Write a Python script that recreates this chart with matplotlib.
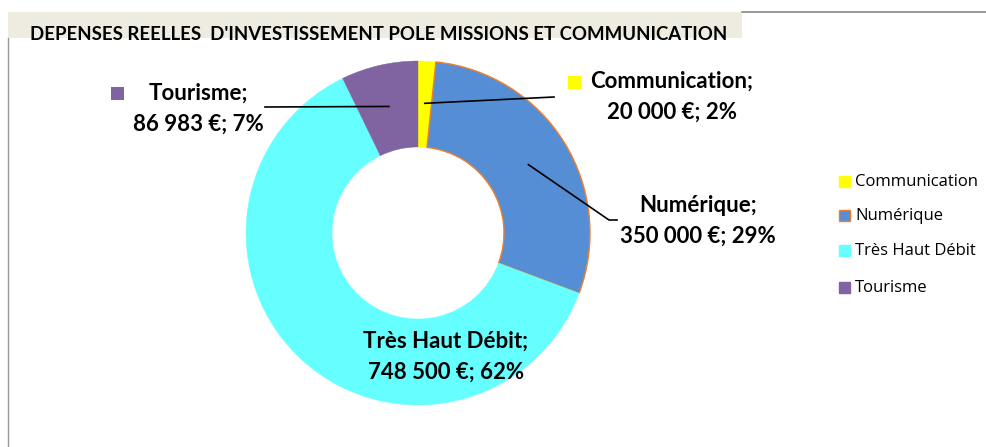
import matplotlib
matplotlib.use("Agg")
import matplotlib.pyplot as plt
from matplotlib.patches import Rectangle
from matplotlib.lines import Line2D
from matplotlib import font_manager
import numpy as np

categories = ["Communication", "Numérique", "Très Haut Débit", "Tourisme"]
amounts = [20000, 350000, 748500, 86983]
amount_labels = ["20 000 €", "350 000 €", "748 500 €", "86 983 €"]
colors = ["#FFFF00", "#558ED5", "#66FFFF", "#8064A2"]
edge_colors = ["none", "#F07F2A", "none", "none"]
title = "DEPENSES REELLES  D'INVESTISSEMENT POLE MISSIONS ET COMMUNICATION"

W, H = 987, 447
fig = plt.figure(figsize=(W / 100, H / 100), dpi=100)
fig.patch.set_facecolor("white")

avail = {f.name for f in font_manager.fontManager.ttflist}
label_font = "Lato" if "Lato" in avail else "DejaVu Sans"
legend_font = "Open Sans" if "Open Sans" in avail else label_font


def px(x, y):
    """pixel coords (origin top-left) -> figure fraction"""
    return x / W, 1 - y / H


# frame decorations
fig.add_artist(Rectangle(px(8, 38), 734 / W, 26 / H, transform=fig.transFigure,
                         facecolor="#EEECE1", edgecolor="none", zorder=0))
fig.add_artist(Line2D([742 / W, 1], [1 - 12 / H] * 2, transform=fig.transFigure,
                      color="#888888", lw=1.2))
fig.add_artist(Line2D([8.5 / W] * 2, [0, 1 - 38 / H], transform=fig.transFigure,
                      color="#999999", lw=1.0))
fig.text(*px(30, 40), title, fontsize=13.4, fontweight="bold", family=label_font,
         ha="left", va="baseline")

# donut
cx, cy, R = 418, 233, 172
ax = fig.add_axes([(cx - R) / W, (H - cy - R) / H, 2 * R / W, 2 * R / H])
wedges, _ = ax.pie(amounts, colors=colors, startangle=90, counterclock=False,
                   radius=1.0, wedgeprops=dict(width=0.5, linewidth=1.0))
for w, ec in zip(wedges, edge_colors):
    if ec != "none":
        w.set_edgecolor(ec)
    else:
        w.set_edgecolor(w.get_facecolor())
        w.set_linewidth(0.3)
ax.set_xlim(-1, 1)
ax.set_ylim(-1, 1)
ax.set_aspect("equal")
ax.axis("off")

total = sum(amounts)
pcts = [round(100 * a / total) for a in amounts]
texts = [f"{c};\n{a}; {p}%" for c, a, p in zip(categories, amount_labels, pcts)]

# label centres (pixels) and leader-line ends
label_pos = [(672, 97), (698, 221), (446, 357), (198, 109)]
leader_end = [[(554, 97)], [(609, 220), (617, 220)], None, [(265, 107)]]
tf = fig.transFigure
mid_angles = []
cum = 0
for a in amounts:
    mid = 90 - 360 * (cum + a / 2) / total
    mid_angles.append(np.deg2rad(mid))
    cum += a

for i, (txt, (lx, ly)) in enumerate(zip(texts, label_pos)):
    fig.text(*px(lx, ly), txt, ha="center", va="center", fontsize=16,
             fontweight="bold", family=label_font, linespacing=1.6)
    if leader_end[i] is not None:
        r = 0.755
        sx = cx + R * r * np.cos(mid_angles[i])
        sy = cy - R * r * np.sin(mid_angles[i])
        pts = [(sx, sy)] + leader_end[i]
        xs = [p[0] / W for p in pts]
        ys = [1 - p[1] / H for p in pts]
        fig.add_artist(Line2D(xs, ys, transform=tf, color="black", lw=1.2))

# legend keys beside labels
for (x0, y0), c in [((568, 76), colors[0]), ((111, 87), colors[3])]:
    fig.add_artist(Rectangle(px(x0, y0 + 13), 13 / W, 13 / H, transform=tf,
                             facecolor=c, edgecolor="none"))

# legend
leg_y = [182, 216, 251, 288]
for cat, c, ec, y in zip(categories, colors, edge_colors, leg_y):
    fig.add_artist(Rectangle(px(839, y + 5), 11 / W, 11 / H, transform=tf,
                             facecolor=c, edgecolor=(ec if ec != "none" else c),
                             lw=1.0))
    fig.text(*px(855, y), cat, ha="left", va="center", fontsize=12,
             family=legend_font)

fig.savefig("out.png", dpi=100)
